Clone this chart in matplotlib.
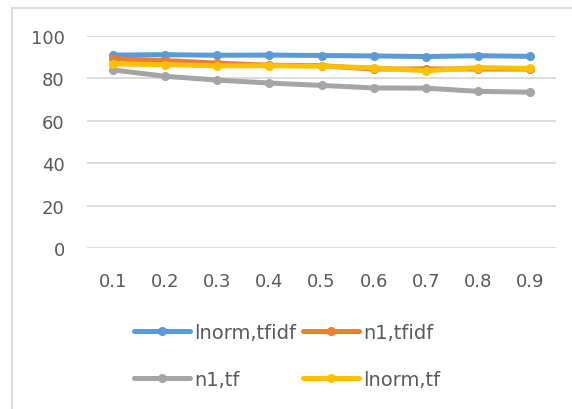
import matplotlib
matplotlib.use("Agg")
import matplotlib.pyplot as plt
from matplotlib.lines import Line2D

# Threshold values on the category axis
categories = ["0.1", "0.2", "0.3", "0.4", "0.5", "0.6", "0.7", "0.8", "0.9"]

# Scores for each normalisation / weighting combination
lnorm_tfidf = [91.0, 91.2, 90.9, 91.0, 90.8, 90.6, 90.3, 90.7, 90.4]
n1_tfidf = [89.2, 88.4, 87.2, 86.2, 86.0, 84.4, 84.5, 84.4, 84.4]
n1_tf = [84.0, 81.0, 79.2, 77.8, 76.7, 75.5, 75.4, 73.9, 73.5]
lnorm_tf = [86.8, 86.5, 85.9, 86.0, 85.7, 85.0, 83.6, 85.1, 84.7]

y_ticks = [0, 20, 40, 60, 80, 100]

series = [
    ("lnorm,tfidf", lnorm_tfidf, "#5B9BD5"),
    ("n1,tfidf", n1_tfidf, "#ED7D31"),
    ("n1,tf", n1_tf, "#A5A5A5"),
    ("lnorm,tf", lnorm_tf, "#FFC000"),
]

W, H = 572, 410
fig = plt.figure(figsize=(W / 100, H / 100), dpi=100)
fig.patch.set_facecolor("white")

# Chart frame: only the left and top edges show
frame_kw = dict(transform=fig.transFigure, color="#D9D9D9", linewidth=1.3)
fig.add_artist(Line2D([11.5 / W, 11.5 / W], [0, 1 - 8.5 / H], **frame_kw))
fig.add_artist(Line2D([11.5 / W, 1], [1 - 8.5 / H, 1 - 8.5 / H], **frame_kw))

ax = fig.add_axes([87 / W, 1 - 249 / H, (556 - 87) / W, (249 - 37) / H])
x = list(range(1, len(categories) + 1))

handles = {}
for name, vals, color in series:
    (ln,) = ax.plot(x, vals, color=color, linewidth=3.6, marker="o",
                    markersize=5.5, solid_capstyle="round", label=name,
                    zorder=3)
    handles[name] = ln

ax.set_xlim(0.5, len(categories) + 0.5)
ax.set_ylim(0, 100)
ax.set_xticks(x)
ax.set_xticklabels(categories)
ax.set_yticks(y_ticks)
ax.grid(axis="y", color="#D9D9D9", linewidth=1.3, zorder=0)
ax.set_axisbelow(True)
for s in ax.spines.values():
    s.set_visible(False)
ax.tick_params(axis="both", length=0, labelsize=13, colors="#595959")
ax.tick_params(axis="y", pad=16)
ax.tick_params(axis="x", pad=17)

order = ["lnorm,tfidf", "n1,tf", "n1,tfidf", "lnorm,tf"]
leg = fig.legend([handles[n] for n in order], order, ncol=2,
                 loc="upper left", bbox_to_anchor=(134 / W, 1 - 324 / H),
                 frameon=False, fontsize=14, handlelength=2.9,
                 handletextpad=0.2, columnspacing=0.35, labelspacing=1.45,
                 borderaxespad=0, borderpad=0)
for t in leg.get_texts():
    t.set_color("#595959")

fig.savefig("out.png", dpi=100, facecolor="white")
